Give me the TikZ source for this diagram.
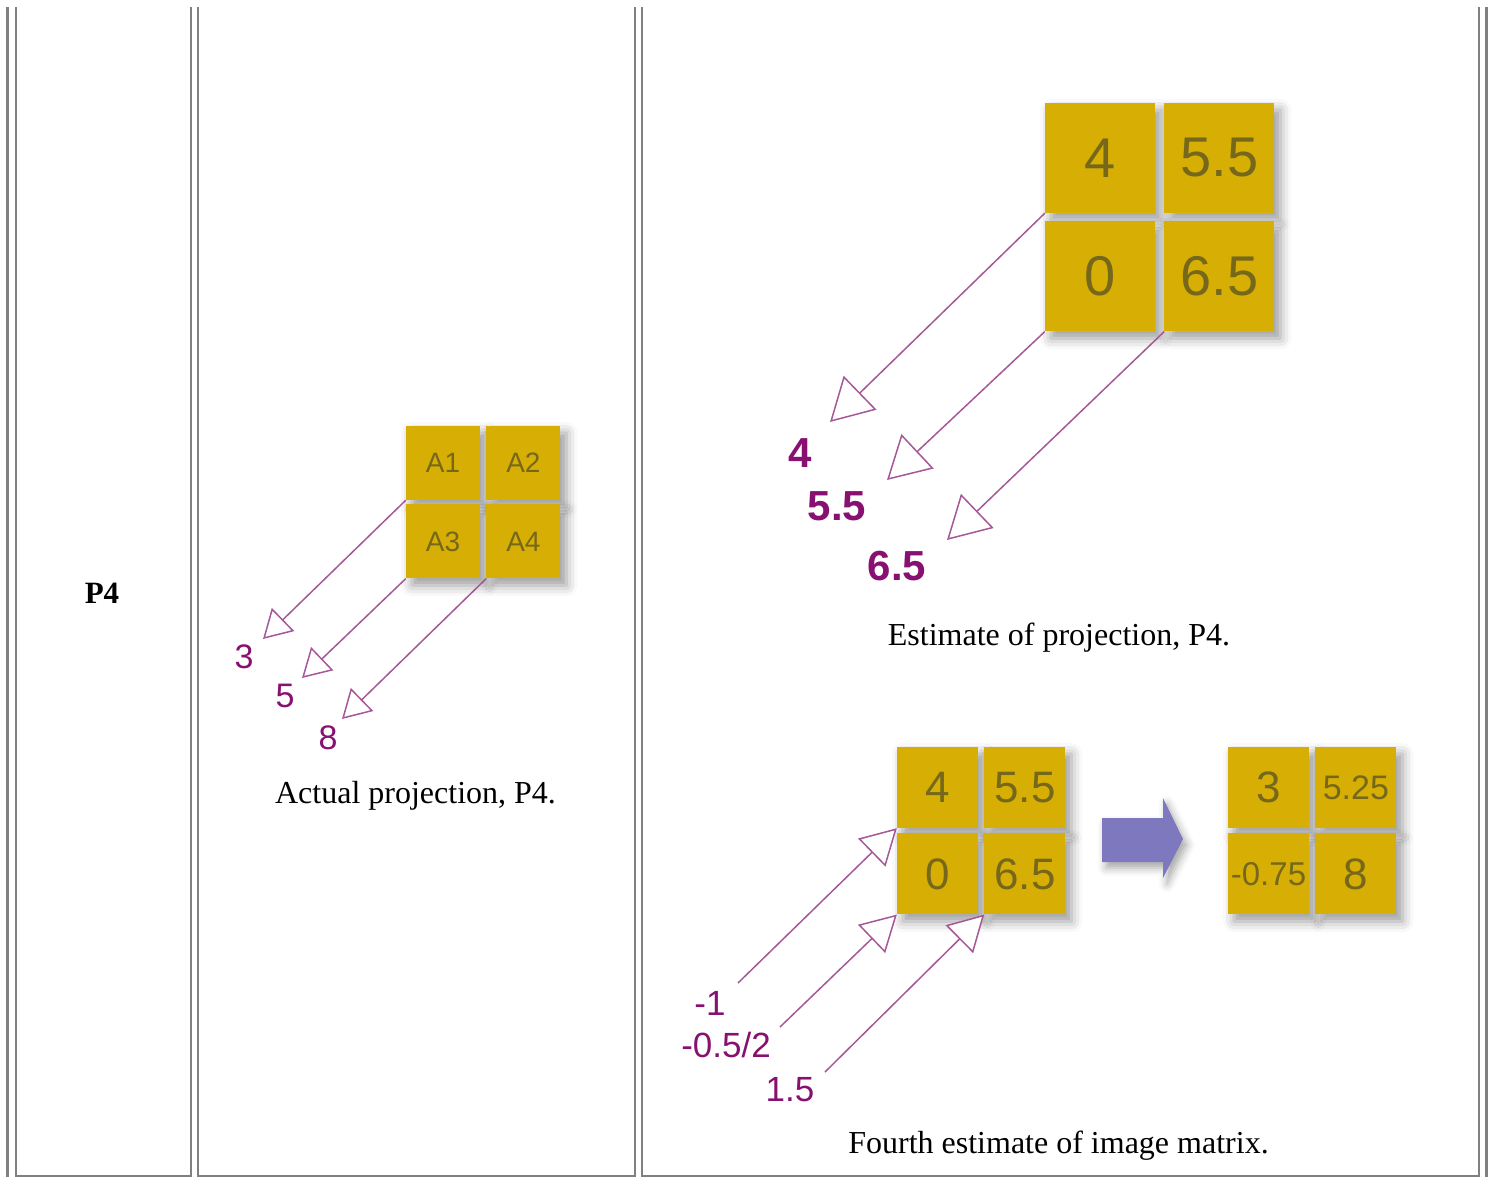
\documentclass[tikz,border=0pt]{standalone}
\usepackage{fontspec}
\setmainfont{Liberation Serif}
\setsansfont{Liberation Sans}
\usepackage{xcolor}
\usetikzlibrary{arrows.meta,positioning,calc,shadows.blur}
\definecolor{tilegold}{RGB}{214,174,4}
\definecolor{tiletext}{RGB}{118,104,26}
\definecolor{projline}{RGB}{165,88,152}
\definecolor{projlab}{RGB}{135,16,112}
\definecolor{blockblue}{RGB}{126,121,190}
\definecolor{rulegray}{RGB}{128,128,128}
\newcommand{\fsz}[1]{\fontsize{#1}{#1}\selectfont}

\begin{document}
\begin{tikzpicture}[x=1pt, y=-1pt,
  tile/.style={fill=tilegold, text=tiletext, inner sep=0pt, minimum size=#1,
    blur shadow={shadow xshift=6pt, shadow yshift=-7pt, shadow blur radius=11pt, shadow opacity=40}},
  proj/.style 2 args={draw=projline, line width=1.5pt,
    -{Triangle[length=#1, width=#2, fill=white]}},
  lab/.style={text=projlab, font=\sffamily\fsz{#1}},
  boldlab/.style={text=projlab, font=\sffamily\bfseries\fsz{#1}},
  captext/.style={font=\fsz{32}, anchor=base},
  cellrule/.style={draw=rulegray, line width=2pt},
  outerrule/.style={draw=rulegray, line width=3pt}]
\useasboundingbox (0,0) rectangle (1491,1177);
% table frame
\draw[outerrule] (7.5,7) -- (7.5,1177);
\draw[outerrule] (1486.5,7) -- (1486.5,1177);
\draw[cellrule] (16,7) -- (16,1176) -- (191,1176) -- (191,7);
\draw[cellrule] (198,7) -- (198,1176) -- (635,1176) -- (635,7);
\draw[cellrule] (642,7) -- (642,1176) -- (1479,1176) -- (1479,7);
\node[font=\bfseries\fsz{31}] (row) at (102,593) {P4};

% actual projection
\node[tile=74pt, font=\sffamily\fsz{28}] (a1) at (443,463) {A1};
\node[tile=74pt, font=\sffamily\fsz{28}, right=6pt of a1] (a2) {A2};
\node[tile=74pt, font=\sffamily\fsz{28}, below=4pt of a1] (a3) {A3};
\node[tile=74pt, font=\sffamily\fsz{28}, right=6pt of a3] (a4) {A4};
\coordinate (ta1) at (263,639);
\coordinate (ta2) at (302,678);
\coordinate (ta3) at (342,719);
\draw[proj={28pt}{32pt}] (a1.south west) -- (ta1);
\draw[proj={28pt}{32pt}] (a3.south west) -- (ta2);
\draw[proj={28pt}{32pt}] (a4.south west) -- (ta3);
\node[lab=34] (la1) at (244,657) {3};
\node[lab=34] (la2) at (285,696) {5};
\node[lab=34] (la3) at (328,738) {8};
\node[captext] (capa) at (415.5,803) {Actual projection, P4.};

% estimate of projection
\node[tile=110pt, font=\sffamily\fsz{56}] (e1) at (1100,158) {4};
\node[tile=110pt, font=\sffamily\fsz{56}, right=9pt of e1] (e2) {5.5};
\node[tile=110pt, font=\sffamily\fsz{56}, below=8pt of e1] (e3) {0};
\node[tile=110pt, font=\sffamily\fsz{56}, right=9pt of e3] (e4) {6.5};
\coordinate (te1) at (830,422);
\coordinate (te2) at (887,480);
\coordinate (te3) at (947,540);
\draw[proj={42pt}{47pt}] (e1.south west) -- (te1);
\draw[proj={42pt}{47pt}] (e3.south west) -- (te2);
\draw[proj={42pt}{47pt}] (e4.south west) -- (te3);
\node[boldlab=42] (le1) at (800,453) {4};
\node[boldlab=42] (le2) at (837,506) {5.5};
\node[boldlab=42] (le3) at (897,566) {6.5};
\node[captext] (cape) at (1059,645) {Estimate of projection, P4.};

% fourth estimate
\node[tile=81pt, font=\sffamily\fsz{44}] (f1) at (937.5,787.5) {4};
\node[tile=81pt, font=\sffamily\fsz{44}, right=6pt of f1] (f2) {5.5};
\node[tile=81pt, font=\sffamily\fsz{44}, below=5pt of f1] (f3) {0};
\node[tile=81pt, font=\sffamily\fsz{44}, right=6pt of f3] (f4) {6.5};
\coordinate (sf1) at (738,983);
\coordinate (sf2) at (780,1027);
\coordinate (sf3) at (825,1072);
\draw[proj={35pt}{39pt}] (sf1) -- (f1.south west);
\draw[proj={35pt}{39pt}] (sf2) -- (f3.south west);
\draw[proj={35pt}{39pt}] (sf3) -- (f4.south west);
\node[lab=35] (lf1) at (710,1003) {-1};
\node[lab=35] (lf2) at (726,1045) {-0.5/2};
\node[lab=35] (lf3) at (790,1090) {1.5};
\node[tile=81pt, font=\sffamily\fsz{44}] (r1) at (1268.5,787.5) {3};
\node[tile=81pt, font=\sffamily\fsz{34}, right=6pt of r1] (r2) {5.25};
\node[tile=81pt, font=\sffamily\fsz{33}, below=5pt of r1] (r3) {-0.75};
\node[tile=81pt, font=\sffamily\fsz{44}, right=6pt of r3] (r4) {8};
\coordinate (blk) at (1142,839);
\fill[blockblue, blur shadow={shadow xshift=4pt, shadow yshift=-6pt, shadow blur radius=8pt, shadow opacity=35}]
  (blk) ++(-40,-21) -- ++(61,0) -- ++(0,-20) -- ++(20,41) -- ++(-20,39) -- ++(0,-16) -- ++(-61,0) -- cycle;
\node[captext] (capf) at (1058.5,1153) {Fourth estimate of image matrix.};
\end{tikzpicture}
\end{document}
